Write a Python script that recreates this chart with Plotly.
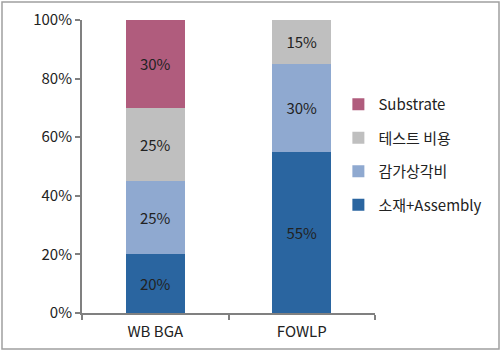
import plotly.graph_objects as go

categories = ["WB BGA", "FOWLP"]
series_names = ["소재+Assembly", "감가상각비", "테스트 비용", "Substrate"]
material = [20, 55]
depreciation = [25, 30]
test_cost = [25, 15]
substrate = [30, 0]
colors = ["#2A65A0", "#8FA9D0", "#BFBFBF", "#B05C7D"]
tick_vals = [0, 20, 40, 60, 80, 100]
tick_text = ["0%", "20%", "40%", "60%", "80%", "100%"]

font_family = "Noto Sans CJK KR, Noto Sans, sans-serif"

fig = go.Figure()
for i, (name, vals, col) in enumerate(zip(series_names, [material, depreciation, test_cost, substrate], colors)):
    fig.add_trace(go.Bar(
        x=categories, y=vals, name=name, marker=dict(color=col, line=dict(width=0)),
        text=[f"{v}%" if v else "" for v in vals], textposition="inside",
        insidetextanchor="middle", textangle=0,
        textfont=dict(color="#222222", size=15, family=font_family),
        legendgroup=name, legendrank=100 - i, width=0.4,
    ))

fig.update_layout(
    barmode="stack",
    width=501, height=352,
    margin=dict(l=82, r=126, t=20, b=39, autoexpand=False),
    paper_bgcolor="white", plot_bgcolor="white",
    font=dict(family=font_family, size=15, color="#222222"),
    showlegend=True,
    legend=dict(x=0.875, y=0.768, xanchor="left", yanchor="top",
                traceorder="grouped", tracegroupgap=11,
                font=dict(size=15, color="#222222", family=font_family),
                bgcolor="rgba(0,0,0,0)", itemwidth=30),
    uniformtext=dict(minsize=8, mode="show"),
)
fig.update_yaxes(range=[0, 100], tickmode="array", tickvals=tick_vals, ticktext=tick_text,
                 showgrid=False, showline=True, linecolor="#808080", linewidth=2,
                 ticks="outside", ticklen=5, tickcolor="#808080", tickwidth=2,
                 tickfont=dict(size=15, color="#222222"), zeroline=False)
fig.update_xaxes(showline=True, linecolor="#808080", linewidth=2,
                 ticks="outside", ticklen=5, tickcolor="#808080", tickwidth=2,
                 ticklabelstandoff=4,
                 tickson="boundaries", tickfont=dict(size=15, color="#222222"))
fig.add_shape(type="rect", xref="paper", yref="paper",
              x0=-80/293, x1=(499-82)/293, y0=-(349-313)/293, y1=(313-2)/293,
              line=dict(color="#A0A0A0", width=1.5), fillcolor="rgba(0,0,0,0)")
fig.write_html("out.html")
